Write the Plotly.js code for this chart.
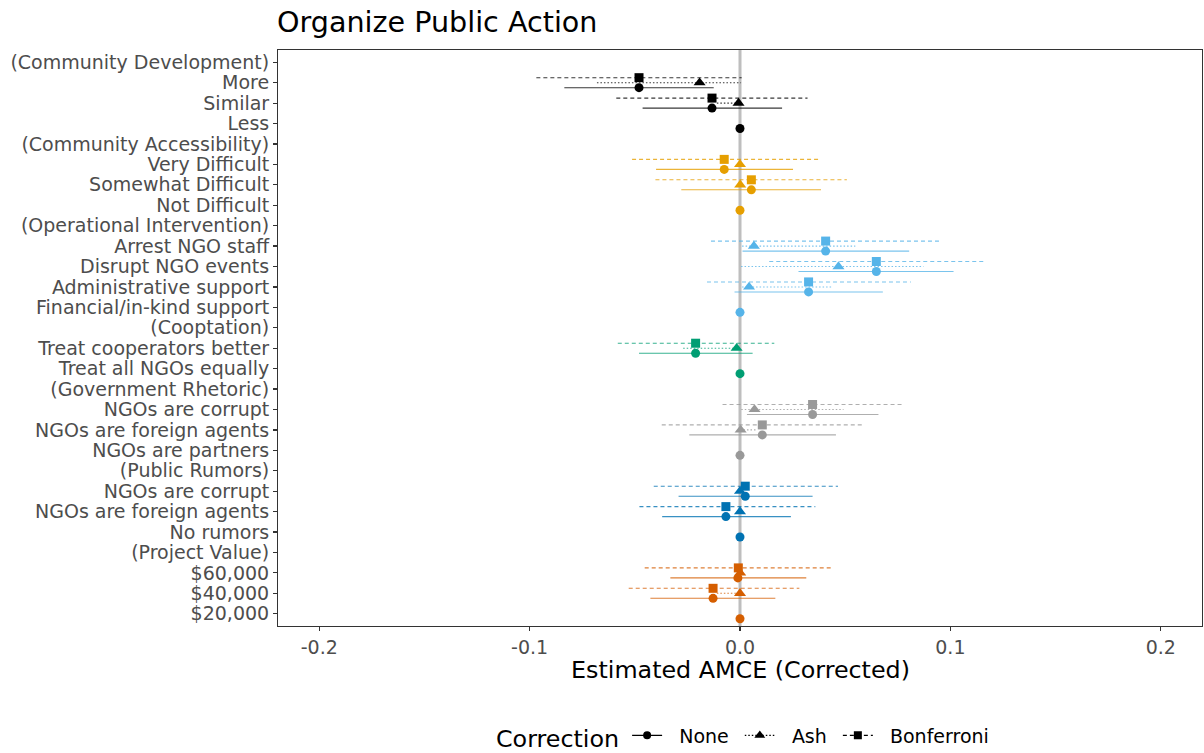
<!DOCTYPE html>
<html>
<head>
<meta charset="utf-8">
<script src="https://cdn.plot.ly/plotly-3.0.1.min.js"></script>
<style>html,body{margin:0;padding:0;background:#fff}#chart{width:1204px;height:753px}</style>
</head>
<body>
<div id="chart"></div>
<script>
// Row labels, top to bottom
const labels = ["(Community Development)","More","Similar","Less",
  "(Community Accessibility)","Very Difficult","Somewhat Difficult","Not Difficult",
  "(Operational Intervention)","Arrest NGO staff","Disrupt NGO events","Administrative support","Financial/in-kind support",
  "(Cooptation)","Treat cooperators better","Treat all NGOs equally",
  "(Government Rhetoric)","NGOs are corrupt","NGOs are foreign agents","NGOs are partners",
  "(Public Rumors)","NGOs are corrupt","NGOs are foreign agents","No rumors",
  "(Project Value)","$60,000","$40,000","$20,000"];
// attribute group of each row
const rowGroup = [0,0,0,0, 1,1,1,1, 2,2,2,2,2, 3,3,3, 4,4,4,4, 5,5,5,5, 6,6,6,6];
const groupColors = ["#000000","#E69F00","#56B4E9","#009E73","#999999","#0072B2","#D55E00"];

// Correction: None
const noneEst = [null,-0.048,-0.0133,0, null,-0.0075,0.0054,0, null,0.0407,0.0648,0.0326,0, null,-0.0211,0, null,0.0345,0.0106,0, null,0.0025,-0.0067,0, null,-0.001,-0.0128,0];
const noneLo  = [null,-0.0835,-0.0463,null, null,-0.0399,-0.0279,null, null,0.0012,0.0278,-0.0026,null, null,-0.048,null, null,0.0033,-0.0241,null, null,-0.0292,-0.037,null, null,-0.0331,-0.0426,null];
const noneHi  = [null,-0.0125,0.020,null, null,0.0252,0.0385,null, null,0.0804,0.1015,0.0679,null, null,0.006,null, null,0.0658,0.0456,null, null,0.0345,0.0242,null, null,0.0315,0.0168,null];
// Correction: Ash
const ashEst = [null,-0.0192,-0.0007,null, null,0.0,0.0001,null, null,0.0066,0.0468,0.0043,null, null,-0.0016,null, null,0.0069,0.0003,null, null,0.0,0.0,null, null,0.0001,0.0,null];
const ashLo  = [null,-0.068,-0.011,null, null,0.0,0.0,null, null,0.001,0.0005,0.001,null, null,-0.027,null, null,0.0006,0.0,null, null,0.0,0.0,null, null,0.0,-0.011,null];
const ashHi  = [null,0.0005,0.0,null, null,0.0,0.0001,null, null,0.0548,0.0872,0.0437,null, null,0.0,null, null,0.0492,0.008,null, null,0.0,0.0,null, null,0.0001,0.0,null];
// Correction: Bonferroni
const bonfEst = [null,-0.048,-0.0133,null, null,-0.0075,0.0054,null, null,0.0407,0.0648,0.0326,null, null,-0.0211,null, null,0.0345,0.0106,null, null,0.0025,-0.0067,null, null,-0.0008,-0.0128,null];
const bonfLo  = [null,-0.0968,-0.0588,null, null,-0.0513,-0.0402,null, null,-0.0138,0.0139,-0.0157,null, null,-0.0581,null, null,-0.0083,-0.0372,null, null,-0.041,-0.0478,null, null,-0.0453,-0.0529,null];
const bonfHi  = [null,0.0008,0.0321,null, null,0.0377,0.0508,null, null,0.0951,0.1157,0.0812,null, null,0.0163,null, null,0.0777,0.0587,null, null,0.0466,0.0358,null, null,0.0437,0.0282,null];

const corrections = [
  {name:"None", est:noneEst, lo:noneLo, hi:noneHi, dy:-0.245, symbol:"circle", dash:"solid", size:9, pad:true},
  {name:"Ash", est:ashEst, lo:ashLo, hi:ashHi, dy:0, symbol:"triangle-up", dash:"1.5px,2px", size:10.5, pad:true},
  {name:"Bonferroni", est:bonfEst, lo:bonfLo, hi:bonfHi, dy:0.245, symbol:"square", dash:"4px,3px", size:9, pad:false}
];

const n = labels.length;
const yPos = labels.map((_, i) => n - 1 - i);
const traces = [];

// interval segments, one trace per correction x group colour
corrections.forEach(c => {
  groupColors.forEach((col, g) => {
    const xs = [], ys = [];
    for (let i = 0; i < n; i++) {
      if (rowGroup[i] !== g || c.lo[i] === null || c.hi[i] === null) continue;
      xs.push(c.lo[i], c.hi[i], null);
      ys.push(yPos[i] + c.dy, yPos[i] + c.dy, null);
    }
    if (xs.length) traces.push({type:"scatter", mode:"lines", x:xs, y:ys, showlegend:false, hoverinfo:"skip",
      opacity:0.78, line:{color:col, width:1.1, dash:c.dash}});
  });
});
// point estimates
corrections.forEach(c => {
  const xs = [], ys = [], cs = [];
  for (let i = 0; i < n; i++) {
    if (c.est[i] === null) continue;
    xs.push(c.est[i]); ys.push(yPos[i] + c.dy); cs.push(groupColors[rowGroup[i]]);
  }
  traces.push({type:"scatter", mode:"markers", x:xs, y:ys, showlegend:false,
    marker:{symbol:c.symbol, size:c.size, color:cs, line:{width:0}}});
});
// legend keys
const NB = "\u00a0";
corrections.forEach(c => {
  traces.push({type:"scatter", mode:"lines+markers", x:[null], y:[null], name:NB+NB+c.name+(c.pad?NB:""),
    line:{color:"#000000", width:1.1, dash:c.dash}, marker:{symbol:c.symbol, size:c.size-1, color:"#000000"}});
});

const layout = {
  width:1204, height:753,
  margin:{l:278, r:2, t:50, b:127, autoexpand:false},
  paper_bgcolor:"#ffffff", plot_bgcolor:"#ffffff",
  font:{family:"DejaVu Sans", color:"#000000"},
  title:{text:"Organize Public Action", font:{size:28.6, color:"#000000"}, xref:"container", x:277/1204, xanchor:"left", yref:"container", y:1-22/753, yanchor:"middle"},
  xaxis:{range:[-0.2196,0.2196], tickvals:[-0.2,-0.1,0,0.1,0.2], ticktext:["-0.2","-0.1","0.0","0.1","0.2"],
    showgrid:false, zeroline:false, showline:true, mirror:true, linecolor:"#333333", linewidth:1,
    ticks:"outside", ticklen:4, tickcolor:"#333333", tickwidth:1.2,
    tickfont:{size:19, color:"#4D4D4D"}},
  yaxis:{range:[-0.6, n-1+0.6], tickvals:yPos, ticktext:labels,
    showgrid:false, zeroline:false, showline:true, mirror:true, linecolor:"#333333", linewidth:1,
    ticks:"outside", ticklen:4, tickcolor:"#333333", tickwidth:1.2,
    tickfont:{size:19, color:"#4D4D4D"}},
  shapes:[{type:"line", xref:"x", yref:"paper", x0:0, x1:0, y0:0, y1:1, layer:"below", line:{color:"#BEBEBE", width:3}}],
  annotations:[{text:"Estimated AMCE (Corrected)", xref:"paper", yref:"paper", x:0.5, y:(626-670)/576, xanchor:"center", yanchor:"middle", showarrow:false, font:{size:23.8, color:"#000000"}}],
  showlegend:true,
  legend:{orientation:"h", x:0.5+4/924, xanchor:"center", y:(626-737)/576, yanchor:"middle",
    title:{text:"Correction", side:"left", font:{size:23.8, color:"#000000"}}, font:{size:19, color:"#000000"},
    bgcolor:"rgba(0,0,0,0)", itemwidth:30}
};

Plotly.newPlot("chart", traces, layout, {displayModeBar:false, staticPlot:true});
</script>
</body>
</html>
